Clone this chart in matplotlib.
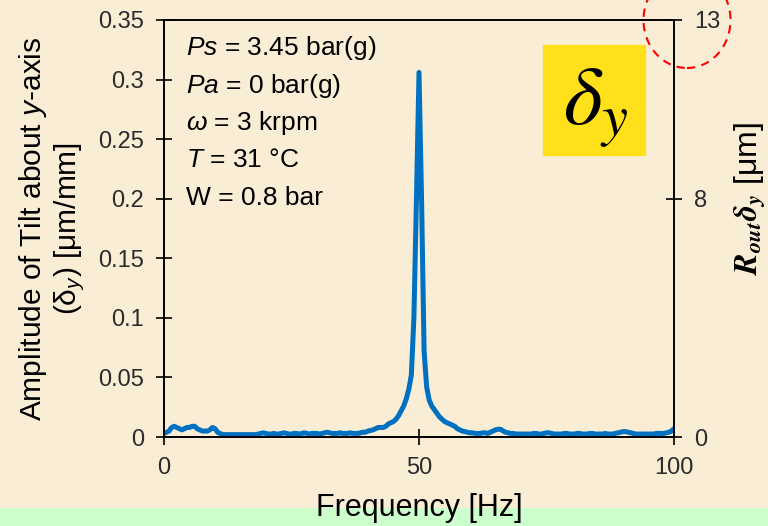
import numpy as np
import matplotlib.pyplot as plt
from matplotlib.patches import Rectangle, Ellipse

plt.rcParams['font.family'] = ['Liberation Sans', 'DejaVu Sans']
plt.rcParams['mathtext.fontset'] = 'custom'
plt.rcParams['mathtext.rm'] = 'Liberation Sans'
plt.rcParams['mathtext.it'] = 'Liberation Sans:italic'
plt.rcParams['mathtext.bf'] = 'Liberation Sans:bold'

# spectrum of tilt about y, 0.5 Hz bins from 0 to 100 Hz
df = 0.5
amp = [
    .003, .004, .005, .008, .009, .008, .007, .006, .007, .008,
    .008, .009, .009, .007, .006, .005, .005, .005, .006, .008,
    .007, .004, .003, .002, .002, .002, .002, .002, .002, .002,
    .002, .002, .002, .002, .002, .002, .002, .0025, .003, .0035,
    .003, .0025, .0025, .003, .0025, .0025, .003, .0035, .003, .0025,
    .0025, .003, .003, .0025, .003, .0035, .003, .0025, .003, .003,
    .003, .0025, .003, .0035, .004, .0035, .003, .003, .003, .0035,
    .003, .003, .003, .0035, .003, .003, .003, .0035, .004, .004,
    .005, .0055, .006, .007, .008, .008, .008, .009, .011, .012,
    .013, .015, .018, .022, .026, .032, .04, .052, .1, .2,
    .306, .2, .072, .042, .031, .026, .023, .02, .017, .015,
    .013, .012, .011, .01, .009, .007, .006, .005, .0045, .004,
    .0035, .0035, .003, .003, .003, .0035, .0035, .003, .004, .005,
    .006, .0065, .0065, .005, .004, .0035, .003, .003, .0025, .0025,
    .0025, .0025, .0025, .0025, .0025, .003, .003, .0025, .0025, .003,
    .0035, .0035, .003, .0025, .0025, .0025, .0025, .003, .003, .0025,
    .0025, .0025, .003, .003, .0025, .0025, .0025, .003, .003, .0025,
    .0025, .0025, .0025, .003, .0025, .0025, .0025, .003, .0035, .004,
    .0045, .0045, .004, .0035, .003, .0025, .0025, .0025, .0025, .0025,
    .0025, .0025, .0025, .003, .003, .003, .003, .0035, .004, .005,
    .007,
]
freq = np.arange(len(amp)) * df

x_ticks = [0, 50, 100]
y_ticks = [0, 0.05, 0.1, 0.15, 0.2, 0.25, 0.3, 0.35]
y_labels = ['0', '0.05', '0.1', '0.15', '0.2', '0.25', '0.3', '0.35']
right_ticks = [0, 0.2, 0.35]
right_labels = ['0', '8', '13']

conditions = [
    '$Ps$ = 3.45 bar(g)',
    '$Pa$ = 0 bar(g)',
    r'$\omega$ = 3 krpm',
    '$T$ = 31 °C',
    'W = 0.8 bar',
]

W, H = 768, 526
fig = plt.figure(figsize=(W / 100, H / 100), dpi=100)
fig.patch.set_facecolor('#F9EDD5')
fig.patches.append(Rectangle((0, 0), 1, 18 / H, transform=fig.transFigure,
                             color='#CCFFCC', zorder=-5))

ax = fig.add_axes([164 / W, 1 - 437 / H, 510 / W, 417 / H])
ax.set_facecolor('none')
ax.plot(freq, amp, color='#0070C0', lw=3.6,
        solid_capstyle='round', solid_joinstyle='round')

ax.set_xlim(0, 100)
ax.set_ylim(0, 0.35)
ax.set_xticks(x_ticks)
ax.set_yticks(y_ticks)
ax.set_yticklabels(y_labels)
for s in ax.spines.values():
    s.set_linewidth(1.2)
ax.tick_params(direction='inout', length=11, width=1.2, labelsize=17,
               labelcolor='#2b2b2b', pad=9)

ax.set_ylabel('Amplitude of Tilt about $y$-axis\n'
              r'($\mathrm{\delta}_y$) [μm/mm]',
              fontsize=21.5, va='center', linespacing=1.15)
ax.yaxis.set_label_coords((52 - 164) / 510, 0.5)
ax.set_xlabel('Frequency [Hz]', fontsize=22, va='center')
ax.xaxis.set_label_coords(0.5, (437 - 508) / 417)

ax2 = ax.twinx()
ax2.set_ylim(0, 0.35)
ax2.set_yticks(right_ticks)
ax2.set_yticklabels(right_labels)
ax2.tick_params(direction='inout', length=11, width=1.2, labelsize=17,
                labelcolor='#2b2b2b', pad=9)
for s in ax2.spines.values():
    s.set_linewidth(1.2)

fig.text(750 / W, 1 - 198 / H,
         r'$\mathbfit{R}_{\mathbfit{out}}\mathbfit{\delta}_{\mathbfit{y}}$ [μm]',
         rotation=90, ha='center', va='center', fontsize=23,
         math_fontfamily='stix')

# operating conditions
for i, line in enumerate(conditions):
    fig.text(186 / W, 1 - (55 + 37.5 * i) / H, line, fontsize=19,
             va='baseline', ha='left')

# yellow tag
fig.patches.append(Rectangle((543 / W, 1 - 155 / H), 102 / W, 110 / H,
                             transform=fig.transFigure, color='#FFE01A',
                             zorder=1))
fig.text(596 / W, 1 - 108 / H, r'$\delta_y$', fontsize=60,
         ha='center', va='center', math_fontfamily='stix')

# dashed ring around the top right label
fig.patches.append(Ellipse((687 / W, 1 - 20 / H), 87 / W, 96 / H,
                           transform=fig.transFigure, fill=False,
                           ec='red', lw=1.5, ls=(0, (4, 3))))

fig.savefig('out.png', dpi=100, facecolor=fig.get_facecolor())
